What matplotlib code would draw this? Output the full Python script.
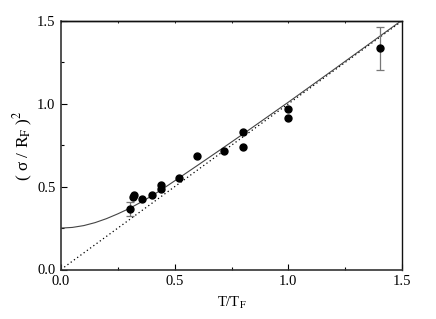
import matplotlib
matplotlib.use("Agg")
import matplotlib.pyplot as plt
from matplotlib.ticker import MultipleLocator, FormatStrFormatter

plt.rcParams['font.family'] = ['Liberation Serif', 'DejaVu Serif']
plt.rcParams['mathtext.fontset'] = 'stix'

# data points (T/T_F, (sigma/R_F)^2)
t_data = [0.303, 0.318, 0.320, 0.358, 0.399, 0.440, 0.440, 0.519, 0.600, 0.718, 0.800, 0.800, 1.000, 1.000, 1.402]
y_data = [0.367, 0.437, 0.447, 0.424, 0.452, 0.486, 0.510, 0.554, 0.683, 0.717, 0.737, 0.831, 0.968, 0.916, 1.336]

# error bars (shown on two points)
t_err = [0.303, 1.402]
y_err_center = [0.367, 1.336]
y_err_half = [0.043, 0.13]

# theory curve
t_curve = [0.0, 0.05, 0.10, 0.15, 0.20, 0.25, 0.30, 0.35, 0.40, 0.45, 0.50, 0.60, 0.70, 0.80, 1.00, 1.20, 1.50]
y_curve = [0.250, 0.254, 0.265, 0.283, 0.307, 0.336, 0.368, 0.405, 0.445, 0.489, 0.535, 0.628, 0.722, 0.817, 1.010, 1.207, 1.505]

# classical line
t_line = [0.0, 1.5]
y_line = [0.0, 1.5]

fig = plt.figure(figsize=(4.36, 3.19), dpi=100)
ax = fig.add_axes([61/436, 1 - 269.5/319, 341/436, 248.5/319])

ax.plot(t_line, y_line, linestyle=(0, (1, 2.2)), color='black', lw=0.9)
ax.plot(t_curve, y_curve, color='#444444', lw=0.8)
ax.errorbar(t_err, y_err_center, yerr=y_err_half, fmt='none', ecolor='#777777',
            elinewidth=0.9, capsize=3, capthick=0.9)
ax.plot(t_data, y_data, 'o', color='black', markersize=5)

ax.set_xlim(0, 1.5)
ax.set_ylim(0, 1.5)
ax.xaxis.set_major_locator(MultipleLocator(0.5))
ax.xaxis.set_minor_locator(MultipleLocator(0.25))
ax.yaxis.set_major_locator(MultipleLocator(0.5))
ax.yaxis.set_minor_locator(MultipleLocator(0.25))
ax.xaxis.set_major_formatter(FormatStrFormatter('%.1f'))
ax.yaxis.set_major_formatter(FormatStrFormatter('%.1f'))

ax.tick_params(which='both', direction='in', labelsize=10.5, colors='black', top=False, right=False)
ax.tick_params(which='major', length=4, width=0.8, pad=4)
ax.tick_params(which='minor', length=2.5, width=0.8)

top = ax.secondary_xaxis('top')
top.xaxis.set_major_locator(MultipleLocator(0.25))
top.tick_params(direction='in', length=1.5, width=0.6, labeltop=False)
top.spines['top'].set_linewidth(1.0)
top.spines['top'].set_color('#111111')

for s in ['left', 'bottom']:
    ax.spines[s].set_linewidth(1.2)
    ax.spines[s].set_color('#333333')
for s in ['top', 'right']:
    ax.spines[s].set_linewidth(1.0)
    ax.spines[s].set_color('#111111')

ax.set_xlabel(r'T/T$_{\mathrm{F}}$', fontsize=10.5, labelpad=5)
ax.set_ylabel('( σ / R$_{\\mathrm{F}}$ )$^2$', fontsize=12.5)
ax.yaxis.set_label_coords(-0.075, 0.5)

fig.savefig('out.png', dpi=100)
